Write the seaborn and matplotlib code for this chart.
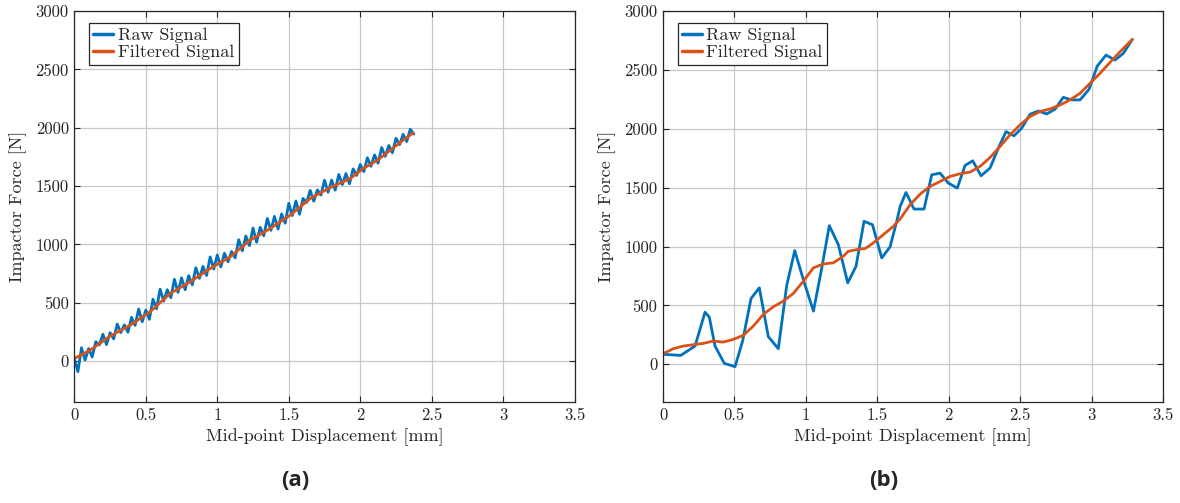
import numpy as np
import pandas as pd
import matplotlib
matplotlib.use("Agg")
import matplotlib.pyplot as plt
from matplotlib.ticker import FormatStrFormatter
import seaborn as sns

# ---- Test (a): fine sampling ----
disp_a = [0.000, 0.025, 0.050, 0.075, 0.100, 0.125, 0.150, 0.175, 0.200, 0.225,
          0.250, 0.275, 0.300, 0.325, 0.350, 0.375, 0.400, 0.425, 0.450, 0.475,
          0.500, 0.525, 0.550, 0.575, 0.600, 0.625, 0.650, 0.675, 0.700, 0.725,
          0.750, 0.775, 0.800, 0.825, 0.850, 0.875, 0.900, 0.925, 0.950, 0.975,
          1.000, 1.025, 1.050, 1.075, 1.100, 1.125, 1.150, 1.175, 1.200, 1.225,
          1.250, 1.275, 1.300, 1.325, 1.350, 1.375, 1.400, 1.425, 1.450, 1.475,
          1.500, 1.525, 1.550, 1.575, 1.600, 1.625, 1.650, 1.675, 1.700, 1.725,
          1.750, 1.775, 1.800, 1.825, 1.850, 1.875, 1.900, 1.925, 1.950, 1.975,
          2.000, 2.025, 2.050, 2.075, 2.100, 2.125, 2.150, 2.175, 2.200, 2.225,
          2.250, 2.275, 2.300, 2.325, 2.350, 2.375]
raw_a = [20, -90, 115, 10, 108, 36, 167, 139, 231, 142,
         244, 191, 318, 245, 311, 248, 376, 307, 447, 338,
         438, 359, 531, 449, 617, 515, 613, 544, 702, 590,
         714, 612, 733, 654, 801, 710, 812, 734, 894, 790,
         910, 808, 925, 852, 940, 885, 1041, 946, 1073, 990,
         1141, 1019, 1147, 1075, 1223, 1121, 1241, 1132, 1262, 1183,
         1353, 1248, 1373, 1259, 1395, 1360, 1464, 1371, 1468, 1424,
         1551, 1448, 1552, 1466, 1600, 1514, 1608, 1520, 1648, 1592,
         1686, 1625, 1743, 1670, 1768, 1697, 1831, 1755, 1849, 1786,
         1911, 1855, 1944, 1882, 1988, 1946]
filt_disp_a = [0.00, 0.11, 0.25, 0.39, 0.53, 0.67, 0.81, 0.95, 1.09, 1.23,
               1.37, 1.51, 1.65, 1.79, 1.93, 2.02, 2.12, 2.21, 2.30, 2.37]
filt_a = [23, 94, 214, 308, 423, 580, 680, 794, 894, 1037,
          1137, 1251, 1394, 1488, 1565, 1651, 1722, 1808, 1894, 1956]

# ---- Test (b): coarse sampling ----
disp_b = [0.000, 0.124, 0.224, 0.294, 0.324, 0.364, 0.429, 0.504, 0.557, 0.616,
          0.674, 0.737, 0.807, 0.866, 0.922, 0.987, 1.053, 1.110, 1.164, 1.227,
          1.293, 1.351, 1.407, 1.466, 1.531, 1.589, 1.636, 1.660, 1.701, 1.757,
          1.827, 1.881, 1.939, 1.997, 2.060, 2.114, 2.168, 2.226, 2.289, 2.347,
          2.401, 2.457, 2.511, 2.569, 2.627, 2.686, 2.744, 2.802, 2.861, 2.919,
          2.982, 3.040, 3.101, 3.164, 3.222, 3.285]
raw_b = [85, 76, 155, 443, 401, 155, 8, -20, 198, 559,
         650, 235, 133, 672, 966, 700, 452, 811, 1178, 1017,
         692, 833, 1215, 1186, 904, 997, 1215, 1342, 1460, 1319,
         1319, 1610, 1624, 1540, 1497, 1689, 1729, 1602, 1667, 1836,
         1977, 1941, 2006, 2124, 2152, 2127, 2167, 2268, 2246, 2246,
         2336, 2534, 2627, 2585, 2641, 2760]
filt_disp_b = [0.000, 0.072, 0.142, 0.212, 0.282, 0.352, 0.422, 0.492, 0.562, 0.632,
               0.702, 0.772, 0.842, 0.912, 0.982, 1.052, 1.122, 1.192, 1.262, 1.297,
               1.379, 1.414, 1.472, 1.542, 1.612, 1.660, 1.730, 1.800, 1.869, 1.939,
               2.009, 2.079, 2.149, 2.219, 2.289, 2.359, 2.429, 2.499, 2.569, 2.639,
               2.709, 2.779, 2.849, 2.919, 2.989, 3.059, 3.129, 3.199, 3.285]
filt_b = [90, 133, 155, 167, 178, 198, 189, 212, 246, 325,
          424, 489, 537, 602, 706, 819, 853, 862, 918, 960,
          980, 983, 1031, 1102, 1172, 1235, 1356, 1446, 1511, 1553,
          1596, 1619, 1633, 1681, 1757, 1850, 1949, 2034, 2105, 2147,
          2169, 2203, 2246, 2302, 2387, 2472, 2565, 2655, 2760]

x_ticks = [0, 0.5, 1, 1.5, 2, 2.5, 3, 3.5]
y_ticks = [0, 500, 1000, 1500, 2000, 2500, 3000]
panel_labels = ["(a)", "(b)"]

sns.set_style("whitegrid")
plt.rcParams.update({
    "font.family": "serif",
    "font.serif": ["cmr10"],
    "mathtext.fontset": "cm",
    "axes.formatter.use_mathtext": True,
    "axes.unicode_minus": False,
})

BLUE = "#0072BD"
ORANGE = "#D95319"

fig = plt.figure(figsize=(11.8, 5.03), dpi=100)
ax_a = fig.add_axes([0.063, 0.2008, 0.424, 0.777])
ax_b = fig.add_axes([0.5619, 0.2008, 0.4237, 0.777])

panels = [
    (ax_a, disp_a, raw_a, filt_disp_a, filt_a, -350),
    (ax_b, disp_b, raw_b, filt_disp_b, filt_b, -320),
]

for ax, xd, yd, xf, yf, ymin in panels:
    raw_df = pd.DataFrame({"disp": xd, "force": yd})
    filt_df = pd.DataFrame({"disp": xf, "force": yf})
    sns.lineplot(data=raw_df, x="disp", y="force", ax=ax, color=BLUE,
                 linewidth=2.0, label="Raw Signal", sort=False, estimator=None)
    sns.lineplot(data=filt_df, x="disp", y="force", ax=ax, color=ORANGE,
                 linewidth=2.0, label="Filtered Signal", sort=False, estimator=None)
    ax.set_xlim(0, 3.5)
    ax.set_ylim(ymin, 3000)
    ax.set_xticks(x_ticks)
    ax.set_yticks(y_ticks)
    ax.xaxis.set_major_formatter(FormatStrFormatter("%g"))
    ax.yaxis.set_major_formatter(FormatStrFormatter("%g"))
    ax.grid(True, color="#c8c8c8", linewidth=0.9)
    ax.tick_params(axis="both", direction="in", length=4, width=0.8,
                   labelsize=12, colors="#262626", pad=4,
                   top=True, right=True, bottom=True, left=True)
    for s in ax.spines.values():
        s.set_color("#262626")
        s.set_linewidth(0.9)
    ax.set_xlabel("Mid-point Displacement [mm]", fontsize=13, color="#262626", labelpad=4)
    ax.set_ylabel("Impactor Force [N]", fontsize=13, color="#262626", labelpad=6)
    leg = ax.legend(loc="upper left", bbox_to_anchor=(0.029, 0.969), borderaxespad=0,
                    fontsize=13, handlelength=1.1, handletextpad=0.25,
                    labelspacing=0.05, borderpad=0.25, fancybox=False,
                    framealpha=1, edgecolor="#262626")
    leg.get_frame().set_linewidth(0.9)
    for line in leg.get_lines():
        line.set_linewidth(2.5)

fig.text(0.25, 0.045, panel_labels[0], ha="center", va="center",
         fontsize=16, fontweight="bold", family="Open Sans")
fig.text(0.749, 0.045, panel_labels[1], ha="center", va="center",
         fontsize=16, fontweight="bold", family="Open Sans")

fig.savefig("out.png", dpi=100)
